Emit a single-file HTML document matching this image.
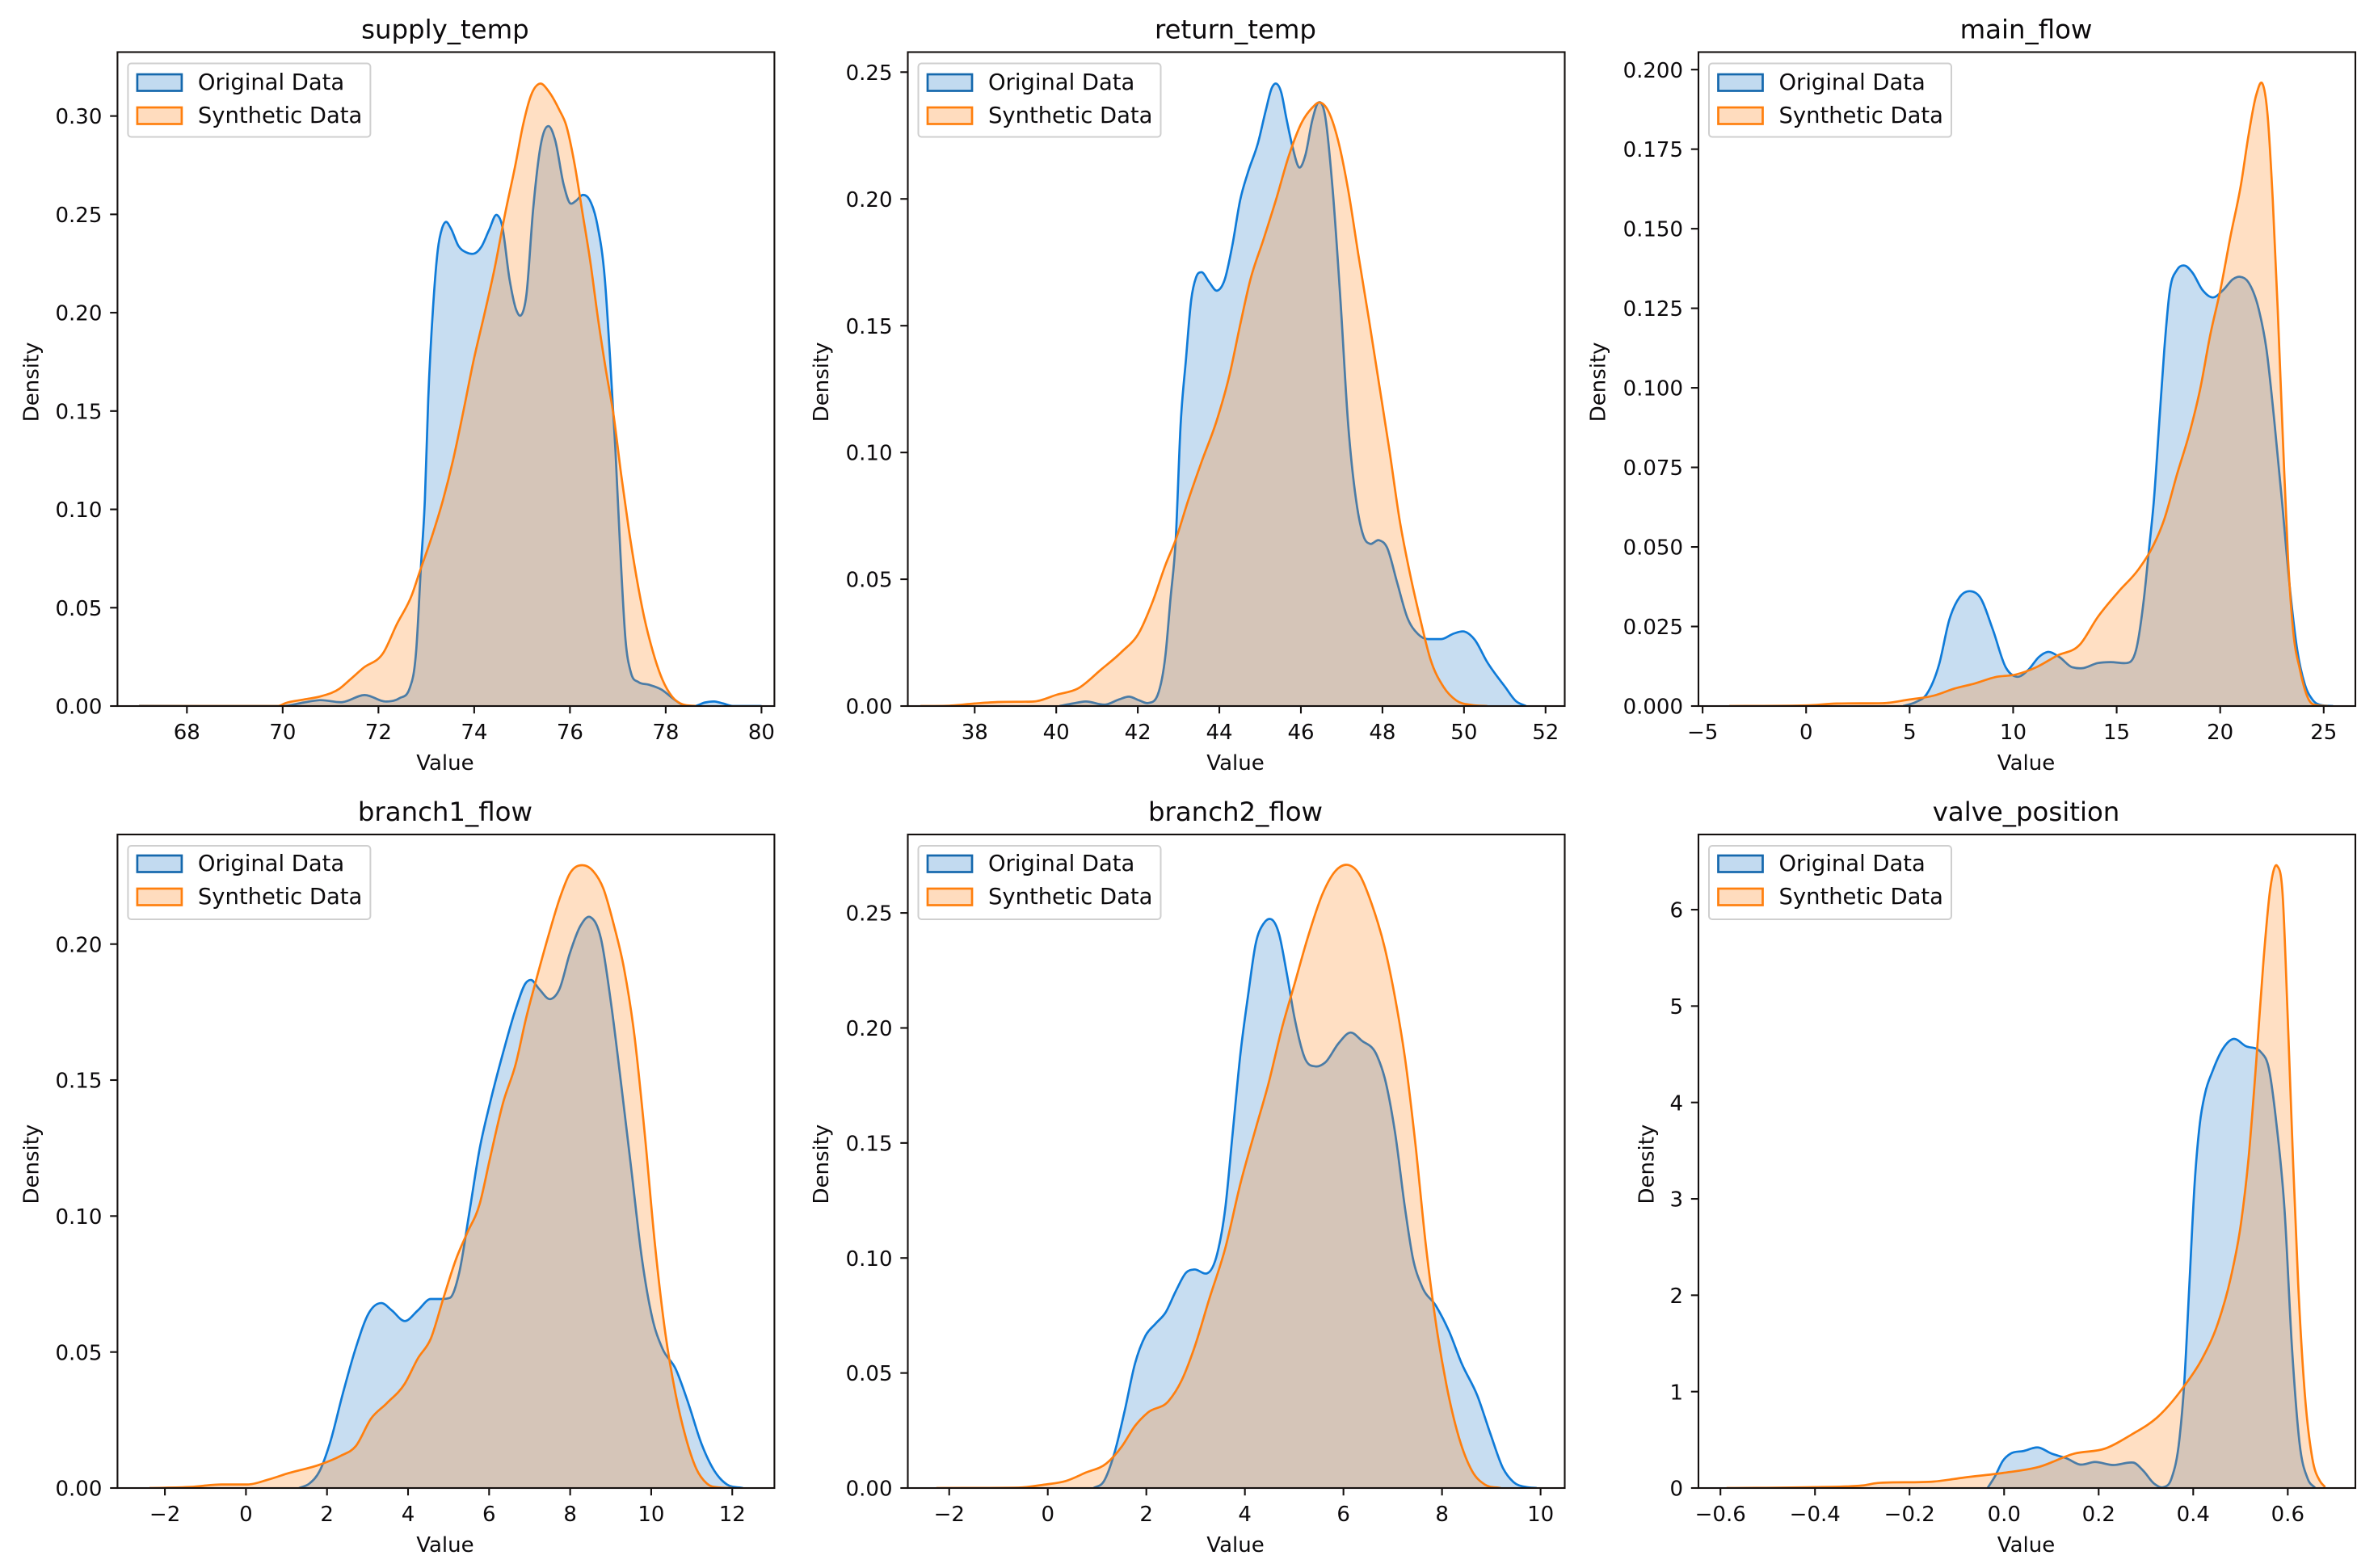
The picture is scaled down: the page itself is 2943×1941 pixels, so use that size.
<!DOCTYPE html>
<html lang="en">
<head>
<meta charset="utf-8">
<title>KDE comparison of original and synthetic data</title>
<style>
html,body{margin:0;padding:0;background:#fff;}
svg{display:block;}
text{font-family:"DejaVu Sans","Liberation Sans",sans-serif;fill:#0c0a0c;}
</style>
</head>
<body>
<svg id="figure" xmlns="http://www.w3.org/2000/svg" width="2943" height="1941" viewBox="0 0 2943 1941"></svg>
<script>
const panelTitles = ["supply_temp","return_temp","main_flow","branch1_flow","branch2_flow","valve_position"];
const seriesNames = ["Original Data","Synthetic Data"];

const supplyTempXLim = [66.55,80.27];
const supplyTempYLim = [0,0.3325];
const supplyTempXTicks = [68,70,72,74,76,78,80];
const supplyTempYTicks = [0,0.05,0.10,0.15,0.20,0.25,0.30];
const supplyTempOrigX = [67,70.0,70.44,70.77,71.25,71.71,72.17,72.44,72.65,72.79,72.89,72.97,73.04,73.15,73.24,73.33,73.40,73.51,73.67,73.83,73.99,74.15,74.31,74.47,74.58,74.74,74.88,74.98,75.09,75.23,75.39,75.55,75.69,75.87,76.01,76.12,76.27,76.41,76.57,76.73,76.84,76.95,77.05,77.16,77.27,77.43,77.64,77.91,78.18,78.39,78.6,78.82,79.02,79.2,79.4,80.0];
const supplyTempOrigY = [0.0001,0,0.0018,0.003,0.002,0.0056,0.0023,0.004,0.0089,0.0287,0.072,0.105,0.156,0.206,0.232,0.243,0.2461,0.243,0.234,0.2307,0.23,0.2335,0.242,0.2497,0.2446,0.2167,0.2013,0.1987,0.209,0.2523,0.2853,0.2949,0.2878,0.265,0.2555,0.2568,0.2599,0.2574,0.245,0.2167,0.176,0.13,0.0795,0.0338,0.0173,0.0122,0.0109,0.0084,0.0033,0.0003,0,0.0018,0.0023,0.0013,0,0];
const supplyTempSynX = [67,69.9,70.06,70.44,70.82,71.19,71.41,71.68,72.11,72.38,72.70,72.86,73.13,73.35,73.56,73.78,73.99,74.21,74.43,74.64,74.86,75.02,75.19,75.38,75.56,75.78,75.92,76.10,76.26,76.42,76.59,76.75,76.91,77.07,77.23,77.39,77.55,77.72,77.93,78.14,78.36,78.63];
const supplyTempSynY = [0,0,0.0015,0.0033,0.0051,0.0089,0.0135,0.0193,0.0274,0.0414,0.0566,0.0681,0.0872,0.1049,0.1252,0.1506,0.176,0.1989,0.223,0.2497,0.2751,0.2954,0.3107,0.3165,0.3124,0.303,0.2954,0.2751,0.251,0.2268,0.1963,0.1709,0.1481,0.1176,0.0897,0.0655,0.0452,0.0287,0.0135,0.0046,0.0008,0];

const returnTempXLim = [36.36,52.47];
const returnTempYLim = [0,0.2579];
const returnTempXTicks = [38,40,42,44,46,48,50,52];
const returnTempYTicks = [0,0.05,0.10,0.15,0.20,0.25];
const returnTempOrigX = [40.08,40.40,40.72,41.22,41.54,41.79,42.04,42.26,42.49,42.68,42.80,42.93,43.05,43.18,43.31,43.43,43.56,43.75,43.94,44.13,44.32,44.51,44.70,44.95,45.14,45.29,45.39,45.52,45.64,45.80,45.96,46.11,46.28,46.43,46.59,46.78,46.97,47.16,47.35,47.54,47.69,47.92,48.11,48.36,48.61,48.87,49.12,49.44,49.75,50.00,50.26,50.57,51.01,51.27,51.52];
const returnTempOrigY = [0,0.001,0.0018,0.0006,0.0026,0.0037,0.0022,0.0012,0.0045,0.0203,0.042,0.0656,0.1109,0.1365,0.1602,0.1691,0.1711,0.1672,0.1638,0.1681,0.1818,0.1995,0.2104,0.2222,0.235,0.2439,0.2455,0.2419,0.2321,0.2202,0.2124,0.2173,0.2311,0.238,0.2331,0.2035,0.1601,0.1109,0.0816,0.0668,0.064,0.0654,0.0626,0.0487,0.0349,0.0284,0.0264,0.0264,0.0286,0.0294,0.0262,0.0173,0.0075,0.002,0];
const returnTempSynX = [36.67,37.3,38.0,38.57,39.45,40.02,40.53,41.10,41.60,42.04,42.36,42.68,42.93,43.24,43.56,43.94,44.25,44.51,44.76,45.08,45.39,45.71,46.02,46.28,46.43,46.66,46.91,47.16,47.41,47.67,47.92,48.17,48.42,48.68,48.93,49.18,49.50,49.81,50.19,50.57];
const returnTempSynY = [0,0.0001,0.001,0.0016,0.0018,0.0045,0.0069,0.0144,0.0213,0.0292,0.041,0.0557,0.0656,0.0813,0.0961,0.1128,0.1306,0.1503,0.1681,0.1839,0.1997,0.2173,0.2301,0.236,0.238,0.235,0.2232,0.2035,0.1779,0.1523,0.1267,0.101,0.0735,0.0518,0.0341,0.0183,0.0075,0.0022,0.0004,0];

const mainFlowXLim = [-5.2,26.53];
const mainFlowYLim = [0,0.2055];
const mainFlowXTicks = [-5,0,5,10,15,20,25];
const mainFlowYTicks = [0,0.025,0.05,0.075,0.10,0.125,0.15,0.175,0.20];
const mainFlowOrigX = [4.69,5.31,5.81,6.42,6.92,7.41,7.91,8.40,9.02,9.64,10.18,10.75,11.24,11.66,12.23,12.85,13.34,14.08,14.70,15.44,15.94,16.31,16.56,16.80,17.05,17.30,17.54,17.91,18.29,18.66,19.15,19.64,20.14,20.63,20.95,21.37,21.87,22.24,22.61,22.98,23.35,23.72,24.09,24.46,24.96,25.45];
const mainFlowOrigY = [0,0.0013,0.0036,0.013,0.0272,0.0342,0.0361,0.0342,0.024,0.0122,0.0092,0.0115,0.0154,0.017,0.0154,0.0122,0.0119,0.0135,0.0138,0.0135,0.0177,0.0334,0.0491,0.0648,0.0884,0.1119,0.1292,0.137,0.1384,0.1362,0.1307,0.1284,0.1307,0.1342,0.1349,0.1331,0.1245,0.1119,0.0899,0.0648,0.0381,0.0177,0.0068,0.002,0.0002,0];
const mainFlowSynX = [-3.71,0,1.48,3.71,4.94,6.18,7.17,8.15,9.14,10.13,11.12,12.11,13.22,14.08,15.07,16.06,16.68,17.30,17.91,18.53,19.03,19.52,20.01,20.51,21.00,21.37,21.74,22.04,22.29,22.54,22.78,23.03,23.28,23.52,23.85,24.22,24.71,25.2];
const mainFlowSynY = [0,0.0002,0.0008,0.0009,0.002,0.0033,0.0055,0.0071,0.0091,0.0099,0.0122,0.0158,0.0193,0.0279,0.0358,0.043,0.0493,0.0587,0.0727,0.0861,0.0995,0.1166,0.1308,0.148,0.1637,0.1794,0.192,0.1956,0.1857,0.159,0.1245,0.0837,0.046,0.024,0.0115,0.0028,0.0002,0];

const branch1FlowXLim = [-3.17,13.04];
const branch1FlowYLim = [0,0.2403];
const branch1FlowXTicks = [-2,0,2,4,6,8,10,12];
const branch1FlowYTicks = [0,0.05,0.10,0.15,0.20];
const branch1FlowOrigX = [1.31,1.57,1.82,2.07,2.39,2.71,3.03,3.35,3.60,3.92,4.24,4.56,4.81,5.03,5.26,5.51,5.77,6.02,6.34,6.66,6.91,7.04,7.23,7.52,7.74,7.99,8.25,8.50,8.76,9.01,9.27,9.52,9.77,10.03,10.28,10.60,10.92,11.24,11.56,11.87,12.26];
const branch1FlowOrigY = [0,0.0017,0.0063,0.0164,0.0347,0.0515,0.0643,0.068,0.0653,0.0614,0.0653,0.0695,0.0695,0.0699,0.079,0.1011,0.125,0.1414,0.1598,0.1763,0.1858,0.1868,0.1836,0.1798,0.1836,0.1965,0.2066,0.2099,0.202,0.1781,0.1471,0.1158,0.0844,0.0623,0.0512,0.0439,0.031,0.0163,0.0063,0.0013,0];
const branch1FlowSynX = [-2.38,-1.36,-0.60,0.04,0.55,1.06,1.82,2.33,2.71,3.09,3.47,3.92,4.24,4.56,4.87,5.19,5.45,5.77,6.02,6.34,6.66,6.91,7.17,7.48,7.74,7.99,8.31,8.57,8.82,9.07,9.33,9.58,9.84,10.09,10.35,10.60,10.86,11.11,11.37,11.68,12.0];
const branch1FlowSynY = [0,0.0004,0.0013,0.0013,0.0031,0.0055,0.0086,0.0118,0.0154,0.0256,0.0311,0.0384,0.0476,0.0549,0.0697,0.0844,0.0935,0.1046,0.1211,0.1414,0.1561,0.1726,0.1873,0.2039,0.2167,0.2259,0.229,0.2268,0.2204,0.2075,0.191,0.1671,0.1303,0.0899,0.0568,0.0347,0.0182,0.0072,0.0017,0.0002,0];

const branch2FlowXLim = [-2.84,10.49];
const branch2FlowYLim = [0,0.2841];
const branch2FlowXTicks = [-2,0,2,4,6,8,10];
const branch2FlowYTicks = [0,0.05,0.10,0.15,0.20,0.25];
const branch2FlowOrigX = [0.93,1.14,1.35,1.56,1.77,1.98,2.19,2.39,2.60,2.81,2.97,3.23,3.44,3.60,3.75,3.91,4.07,4.22,4.38,4.54,4.69,4.85,5.01,5.22,5.43,5.63,5.90,6.14,6.37,6.68,6.84,7.05,7.25,7.41,7.59,7.88,8.14,8.40,8.72,8.98,9.24,9.45,9.71,9.92];
const branch2FlowOrigY = [0,0.003,0.015,0.0335,0.0541,0.0661,0.0715,0.0763,0.0857,0.0937,0.095,0.0933,0.102,0.1213,0.1539,0.1889,0.215,0.2367,0.2454,0.2472,0.2411,0.2237,0.2041,0.1867,0.1833,0.185,0.1933,0.198,0.1945,0.188,0.178,0.1541,0.1215,0.0998,0.0878,0.0791,0.0683,0.0541,0.04,0.0237,0.0085,0.0026,0.0004,0];
const branch2FlowSynX = [-2.26,-0.59,-0.06,0.36,0.77,1.19,1.51,1.77,2.03,2.45,2.71,2.97,3.28,3.60,3.91,4.22,4.48,4.75,5.01,5.27,5.58,5.84,6.08,6.31,6.57,6.84,7.05,7.25,7.46,7.67,7.88,8.09,8.35,8.61,8.87,9.19];
const branch2FlowSynY = [0,0.0002,0.0015,0.003,0.0067,0.0107,0.0183,0.027,0.0328,0.0378,0.0465,0.0607,0.0824,0.1041,0.1324,0.1563,0.1759,0.1998,0.2193,0.2389,0.2585,0.2683,0.2709,0.2672,0.2541,0.2346,0.2128,0.1867,0.1496,0.1059,0.0711,0.0448,0.0215,0.0074,0.0015,0];

const valvePositionXLim = [-0.6465,0.743];
const valvePositionYLim = [0,6.78];
const valvePositionXTicks = [-0.6,-0.4,-0.2,0.0,0.2,0.4,0.6];
const valvePositionYTicks = [0,1,2,3,4,5,6];
const valvePositionOrigX = [-0.035,-0.019,-0.003,0.014,0.041,0.073,0.100,0.133,0.160,0.192,0.230,0.273,0.295,0.317,0.338,0.354,0.371,0.381,0.392,0.403,0.414,0.425,0.441,0.463,0.484,0.511,0.544,0.560,0.576,0.593,0.609,0.625,0.642,0.658];
const valvePositionOrigY = [0,0.124,0.28,0.358,0.384,0.42,0.358,0.306,0.244,0.27,0.239,0.264,0.176,0.047,0.01,0.099,0.514,1.084,2.121,3.159,3.781,4.092,4.326,4.559,4.658,4.585,4.518,4.352,3.781,2.899,1.447,0.462,0.099,0];
const valvePositionSynX = [-0.587,-0.398,-0.300,-0.268,-0.149,-0.084,-0.003,0.073,0.149,0.214,0.268,0.327,0.381,0.419,0.452,0.479,0.501,0.517,0.533,0.549,0.563,0.578,0.589,0.600,0.611,0.622,0.636,0.652,0.668,0.679];
const valvePositionSynY = [0,0.01,0.026,0.052,0.067,0.109,0.156,0.218,0.358,0.41,0.55,0.747,1.058,1.343,1.706,2.173,2.744,3.418,4.404,5.493,6.219,6.452,6.167,4.87,3.418,2.121,0.98,0.306,0.073,0.01];

const panelData = [
  {xLim:supplyTempXLim,yLim:supplyTempYLim,xTicks:supplyTempXTicks,yTicks:supplyTempYTicks,xDec:0,yDec:2,origX:supplyTempOrigX,origY:supplyTempOrigY,synX:supplyTempSynX,synY:supplyTempSynY},
  {xLim:returnTempXLim,yLim:returnTempYLim,xTicks:returnTempXTicks,yTicks:returnTempYTicks,xDec:0,yDec:2,origX:returnTempOrigX,origY:returnTempOrigY,synX:returnTempSynX,synY:returnTempSynY},
  {xLim:mainFlowXLim,yLim:mainFlowYLim,xTicks:mainFlowXTicks,yTicks:mainFlowYTicks,xDec:0,yDec:3,origX:mainFlowOrigX,origY:mainFlowOrigY,synX:mainFlowSynX,synY:mainFlowSynY},
  {xLim:branch1FlowXLim,yLim:branch1FlowYLim,xTicks:branch1FlowXTicks,yTicks:branch1FlowYTicks,xDec:0,yDec:2,origX:branch1FlowOrigX,origY:branch1FlowOrigY,synX:branch1FlowSynX,synY:branch1FlowSynY},
  {xLim:branch2FlowXLim,yLim:branch2FlowYLim,xTicks:branch2FlowXTicks,yTicks:branch2FlowYTicks,xDec:0,yDec:2,origX:branch2FlowOrigX,origY:branch2FlowOrigY,synX:branch2FlowSynX,synY:branch2FlowSynY},
  {xLim:valvePositionXLim,yLim:valvePositionYLim,xTicks:valvePositionXTicks,yTicks:valvePositionYTicks,xDec:1,yDec:0,origX:valvePositionOrigX,origY:valvePositionOrigY,synX:valvePositionSynX,synY:valvePositionSynY}
];

const NS = "http://www.w3.org/2000/svg";
const fig = document.getElementById("figure");
const colLeft = [145.4,1123.5,2102];
const colWidth = 813;
const rowTop = [64.5,1033];
const rowHeight = [809.5,809];
const ylabelX = [39.5,1017,1978.5,39.5,1017,2038.7];
const SPINE = "#14100f";
const BLUE_LINE = "#0f7bd8";
const BLUE_FILL = "#1f77c8";
const ORANGE = "#ff7f0e";

function mk(tag, attrs, parent) {
  const el = document.createElementNS(NS, tag);
  for (const k in attrs) el.setAttribute(k, attrs[k]);
  parent.appendChild(el);
  return el;
}
function fmt(v, dec) {
  return v.toFixed(dec).replace("-", "\u2212");
}
function smoothPath(pts) {
  const n = pts.length;
  const dx = [], sl = [], m = new Array(n);
  for (let i = 0; i < n - 1; i++) {
    dx[i] = pts[i+1][0] - pts[i][0];
    sl[i] = (pts[i+1][1] - pts[i][1]) / dx[i];
  }
  m[0] = sl[0];
  m[n-1] = sl[n-2];
  for (let i = 1; i < n - 1; i++) {
    const par = (sl[i-1] * dx[i] + sl[i] * dx[i-1]) / (dx[i] + dx[i-1]);
    const lim = Math.min(Math.abs(sl[i-1]), Math.abs(sl[i]));
    if (sl[i-1] * sl[i] <= 0) {
      m[i] = Math.sign(par) * Math.min(Math.abs(par), lim);
    } else {
      m[i] = Math.sign(par) * Math.min(Math.abs(par), 3 * lim);
    }
  }
  let d = "M" + pts[0][0].toFixed(2) + " " + pts[0][1].toFixed(2);
  for (let i = 0; i < n - 1; i++) {
    const h = dx[i] / 3;
    d += "C" + (pts[i][0] + h).toFixed(2) + " " + (pts[i][1] + m[i] * h).toFixed(2) + " " +
         (pts[i+1][0] - h).toFixed(2) + " " + (pts[i+1][1] - m[i+1] * h).toFixed(2) + " " +
         pts[i+1][0].toFixed(2) + " " + pts[i+1][1].toFixed(2);
  }
  return d;
}

panelData.forEach(function (p, idx) {
  const row = Math.floor(idx / 3);
  const L = colLeft[idx % 3], T = rowTop[row], H = rowHeight[row], W = colWidth;
  const sx = function (v) { return L + (v - p.xLim[0]) / (p.xLim[1] - p.xLim[0]) * W; };
  const sy = function (v) { return T + H - (v - p.yLim[0]) / (p.yLim[1] - p.yLim[0]) * H; };
  const g = mk("g", {}, fig);
  
  

  const cp = mk("clipPath", {id: "clip" + idx}, g);
  mk("rect", {x: L, y: T, width: W, height: H}, cp);

  const title = mk("text", {x: L + W / 2 - 1, y: T - 17, "text-anchor": "middle", "font-size": "32.4"}, g);
  title.textContent = panelTitles[idx];
  
  

  const plot = mk("g", {"clip-path": "url(#clip" + idx + ")"}, g);
  const series = [
    {x: p.origX, y: p.origY, stroke: BLUE_LINE, fill: BLUE_FILL, key: "original"},
    {x: p.synX, y: p.synY, stroke: ORANGE, fill: ORANGE, key: "synthetic"}
  ];
  series.forEach(function (s) {
    const pts = s.x.map(function (v, i) { return [sx(v), sy(s.y[i])]; });
    const line = smoothPath(pts);
    const base = sy(0).toFixed(2);
    const area = mk("path", {
      d: line + "L" + pts[pts.length-1][0].toFixed(2) + " " + base + "L" + pts[0][0].toFixed(2) + " " + base + "Z",
      fill: s.fill, "fill-opacity": "0.25", stroke: "none"
    }, plot);
    
    
    const curve = mk("path", {d: line, fill: "none", stroke: s.stroke, "stroke-width": "2.7", "stroke-linejoin": "round"}, plot);
    
    
  });

  const bottom = T + H;
  p.xTicks.forEach(function (v) {
    const x = sx(v);
    const tick = mk("line", {x1: x, x2: x, y1: bottom, y2: bottom + 9.2, stroke: SPINE, "stroke-width": "2.1"}, g);
    
    
    const lab = mk("text", {x: x, y: bottom + 41, "text-anchor": "middle", "font-size": "26"}, g);
    lab.textContent = fmt(v, p.xDec);
    
    
  });
  p.yTicks.forEach(function (v) {
    const y = sy(v);
    const tick = mk("line", {x1: L - 9.2, x2: L, y1: y, y2: y, stroke: SPINE, "stroke-width": "2.1"}, g);
    
    
    const lab = mk("text", {x: L - 19, y: y + 9.6, "text-anchor": "end", "font-size": "26"}, g);
    lab.textContent = fmt(v, p.yDec);
    
    
  });

  const frame = mk("rect", {x: L, y: T, width: W, height: H, fill: "none", stroke: SPINE, "stroke-width": "2.1"}, g);
  
  

  const xl = mk("text", {x: L + W / 2 - 1, y: bottom + 79, "text-anchor": "middle", "font-size": "26"}, g);
  xl.textContent = "Value";
  
  
  const yx = ylabelX[idx], yy = T + H / 2 + 3.6;
  const yl = mk("text", {x: yx, y: yy, "text-anchor": "middle", "dominant-baseline": "central", "font-size": "26", transform: "rotate(-90 " + yx + " " + yy + ")"}, g);
  yl.textContent = "Density";
  
  

  const lg = mk("g", {}, g);
  
  
  mk("rect", {x: L + 13, y: T + 14, width: 300, height: 91, rx: 4, fill: "#fff", "fill-opacity": "0.85", stroke: "#cfcfcf", "stroke-width": "2"}, lg);
  const legendShift = row === 0 ? 0 : -1.5;
  seriesNames.forEach(function (name, i) {
    const ry = T + 27.5 + i * 41 + legendShift;
    const swatchBack = series[i];
    const sw = mk("rect", {x: L + 24.5, y: ry, width: 55, height: 20.5, fill: swatchBack.fill, "fill-opacity": "0.27", stroke: i === 0 ? "#1568ad" : ORANGE, "stroke-width": "2.7"}, lg);
    
    
    const t = mk("text", {x: L + 99.5, y: T + 46.5 + i * 41 + legendShift, "font-size": "27.4"}, lg);
    t.textContent = name;
    
    
  });
});
</script>
</body>
</html>
